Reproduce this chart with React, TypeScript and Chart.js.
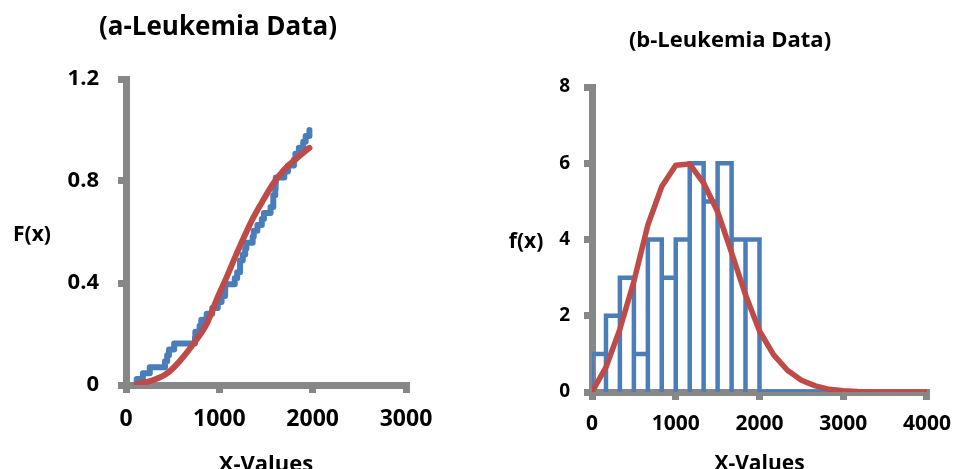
import React, { useEffect, useRef } from "react";
import { Chart, registerables } from "chart.js";

Chart.register(...registerables);

// ---- Data ----
const leukemiaTimes = [
  115, 181, 255, 418, 441, 461, 516, 739, 743, 789, 807, 865, 924, 983, 1024,
  1062, 1063, 1165, 1191, 1222, 1222, 1251, 1277, 1290, 1357, 1369, 1408, 1455,
  1478, 1549, 1578, 1578, 1599, 1603, 1605, 1696, 1735, 1799, 1815, 1852, 1899,
  1925, 1965,
];
const fittedCdfX = [115, 255, 418, 516, 739, 865, 983, 1063, 1191, 1277, 1369, 1478, 1578, 1696, 1815, 1965];
const fittedCdfY = [0.003, 0.015, 0.04, 0.07, 0.17, 0.24, 0.345, 0.41, 0.52, 0.59, 0.66, 0.73, 0.79, 0.845, 0.885, 0.93];

const histEdges = [0, 167, 333, 500, 667, 833, 1000, 1167, 1333, 1500, 1667, 1833, 2000];
const histCounts = [1, 2, 3, 1, 4, 3, 4, 6, 5, 6, 4, 4];

const fittedPdfX = [0, 167, 333, 500, 667, 833, 1000, 1167, 1333, 1500, 1667, 1833, 2000, 2167, 2333, 2500, 2667, 2833, 3000, 3167, 3333, 3500, 3667, 3833, 4000];
const fittedPdfY = [0, 0.65, 1.65, 2.9, 4.38, 5.39, 5.95, 5.98, 5.48, 4.73, 3.65, 2.55, 1.6, 0.98, 0.57, 0.31, 0.16, 0.07, 0.03, 0.01, 0, 0, 0, 0, 0];

const xTicksA = [0, 1000, 2000, 3000];
const yTicksA = [0, 0.4, 0.8, 1.2];
const xTicksB = [0, 1000, 2000, 3000, 4000];
const yTicksB = [0, 2, 4, 6, 8];

const titleA = "(a-Leukemia Data)";
const titleB = "(b-Leukemia Data)";
const yTitleA = "F(x)";
const yTitleB = "f(x)";
const xTitle = "X-Values";

// ---- Styles ----
const BLUE = "#4A7EBB";
const RED = "#BE4B48";
const GRAY = "#878787";
const FONT = "'Open Sans'";

type TextItem = { text: string; size: number; x: number | "center"; y: number };

function textPlugin(items: TextItem[]) {
  return {
    id: "customTexts",
    afterDraw(chart: any) {
      const ctx = chart.ctx;
      ctx.save();
      ctx.fillStyle = "#000";
      ctx.textAlign = "center";
      ctx.textBaseline = "alphabetic";
      items.forEach((it) => {
        ctx.font = `bold ${it.size}px ${FONT}`;
        const x =
          it.x === "center"
            ? (chart.chartArea.left + chart.chartArea.right) / 2
            : it.x;
        ctx.fillText(it.text, x, it.y);
      });
      ctx.restore();
    },
  };
}

function scaleOpts(
  min: number,
  max: number,
  tickValues: number[],
  fontSize: number,
  padding: number,
  fitSize: number,
  horizontal: boolean
) {
  return {
    type: "linear",
    position: horizontal ? "bottom" : "left",
    min,
    max,
    afterBuildTicks: (s: any) => {
      s.ticks = tickValues.map((v) => ({ value: v }));
    },
    afterFit: (s: any) => {
      if (horizontal) s.height = fitSize;
      else s.width = fitSize;
    },
    grid: {
      display: true,
      drawOnChartArea: false,
      drawTicks: true,
      tickLength: 8,
      lineWidth: 7,
      color: GRAY,
    },
    border: { display: true, width: 7, color: GRAY },
    ticks: {
      color: "#000",
      padding,
      autoSkip: false,
      maxRotation: 0,
      font: { family: FONT, size: fontSize, weight: "bold" },
      callback: (v: any) => String(v),
    },
  };
}

function ChartA() {
  const ref = useRef<HTMLCanvasElement | null>(null);
  useEffect(() => {
    if (!ref.current) return;
    const n = leukemiaTimes.length;
    const ecdf = [
      { x: leukemiaTimes[0], y: 0 },
      ...leukemiaTimes.map((t, i) => ({ x: t, y: (i + 1) / n })),
    ];
    const fit = fittedCdfX.map((x, i) => ({ x, y: fittedCdfY[i] }));
    const chart = new Chart(ref.current, {
      type: "scatter",
      data: {
        datasets: [
          {
            data: fit,
            showLine: true,
            borderColor: RED,
            borderWidth: 6,
            pointRadius: 0,
            tension: 0.4,
            cubicInterpolationMode: "monotone",
            borderCapStyle: "round",
            order: 0,
          } as any,
          {
            data: ecdf,
            showLine: true,
            stepped: "before",
            borderColor: BLUE,
            borderWidth: 6,
            pointRadius: 0,
            borderCapStyle: "round",
            borderJoinStyle: "round",
            order: 1,
          } as any,
        ],
      },
      options: {
        responsive: false,
        animation: false,
        devicePixelRatio: 1,
        layout: { padding: { left: 0, right: 74, top: 79, bottom: 0 } },
        plugins: { legend: { display: false }, tooltip: { enabled: false }, title: { display: false } },
        scales: {
          x: scaleOpts(0, 3000, xTicksA, 23, 13, 84, true) as any,
          y: scaleOpts(0, 1.2, yTicksA, 22, 19, 126, false) as any,
        },
      },
      plugins: [
        textPlugin([
          { text: titleA, size: 26, x: 218, y: 35 },
          { text: yTitleA, size: 21, x: 32, y: 241 },
          { text: xTitle, size: 22, x: "center", y: 471 },
        ]),
      ],
    });
    return () => chart.destroy();
  }, []);
  return <canvas ref={ref} width={480} height={469} style={{ display: "block" }} />;
}

function ChartB() {
  const ref = useRef<HTMLCanvasElement | null>(null);
  useEffect(() => {
    if (!ref.current) return;
    const hist: { x: number; y: number }[] = [];
    histCounts.forEach((c, i) => {
      const L = histEdges[i];
      const R = histEdges[i + 1];
      hist.push({ x: L, y: 0 }, { x: L, y: c }, { x: R, y: c }, { x: R, y: 0 });
    });
    hist.push({ x: xTicksB[xTicksB.length - 1], y: 0 });
    const fit = fittedPdfX.map((x, i) => ({ x, y: fittedPdfY[i] }));
    const chart = new Chart(ref.current, {
      type: "scatter",
      data: {
        datasets: [
          {
            data: fit,
            showLine: true,
            borderColor: RED,
            borderWidth: 5.5,
            pointRadius: 0,
            tension: 0,
            borderJoinStyle: "round",
            order: 0,
          } as any,
          {
            data: hist,
            showLine: true,
            borderColor: BLUE,
            borderWidth: 4.5,
            pointRadius: 0,
            tension: 0,
            borderJoinStyle: "miter",
            order: 1,
          } as any,
        ],
      },
      options: {
        responsive: false,
        animation: false,
        devicePixelRatio: 1,
        layout: { padding: { left: 0, right: 26, top: 87, bottom: 0 } },
        plugins: { legend: { display: false }, tooltip: { enabled: false }, title: { display: false } },
        scales: {
          x: scaleOpts(0, 4000, xTicksB, 21, 11, 77, true) as any,
          y: scaleOpts(0, 8, yTicksB, 19, 14, 112, false) as any,
        },
      },
      plugins: [
        textPlugin([
          { text: titleB, size: 22, x: 250, y: 47 },
          { text: yTitleB, size: 21, x: 46, y: 248 },
          { text: xTitle, size: 21, x: "center", y: 470 },
        ]),
      ],
    });
    return () => chart.destroy();
  }, []);
  return <canvas ref={ref} width={482} height={469} style={{ display: "block" }} />;
}

export default function App() {
  return (
    <div
      style={{
        position: "absolute",
        left: 0,
        top: 0,
        width: 962,
        height: 469,
        overflow: "hidden",
        background: "#fff",
      }}
    >
      <div style={{ position: "absolute", left: 0, top: 0 }}>
        <ChartA />
      </div>
      <div style={{ position: "absolute", left: 480, top: 0 }}>
        <ChartB />
      </div>
    </div>
  );
}
